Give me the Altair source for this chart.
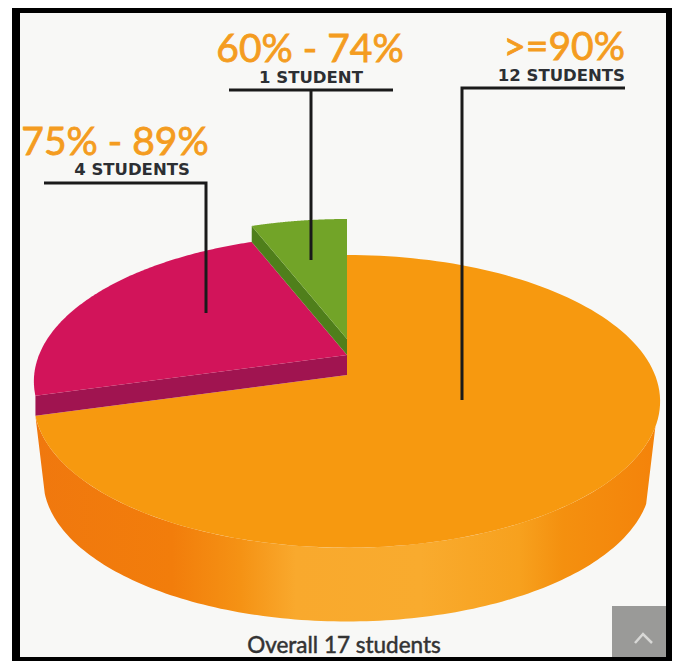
import math
import altair as alt
import pandas as pd

# --- chart values ---
bands = [">=90%", "75% - 89%", "60% - 74%"]
students = [12, 4, 1]
count_labels = ["12 STUDENTS", "4 STUDENTS", "1 STUDENT"]
footer = "Overall 17 students"

top_colors = ["#f7990f", "#d2145a", "#72a428"]
wall_colors = ["#f7990f", "#a01450", "#4f7f1b"]
surface_level = [375, 355, 339]   # height at which each slice's apex sits
wall_level = [454, 375, 355]      # where each slice's cut wall ends

# --- perspective disc ---
CX, A, B, K = 347, 308, 141.6, 0.18

def project(theta, apex, scale=1.0):
    w = 1 + K * math.cos(theta)
    return CX + scale * A * math.sin(theta) / w, apex - scale * B * math.cos(theta) / w

def arc(a, b, apex, scale=1.0, n=140):
    return [project(a + (b - a) * i / n, apex, scale) for i in range(n + 1)]

total = sum(students)
edges = [0]
for s in students:
    edges.append(edges[-1] + s / total * 2 * math.pi)

X = alt.X("x:Q", scale=alt.Scale(domain=[8, 672], nice=False, zero=False), axis=None)
Y = alt.Y("y:Q", scale=alt.Scale(domain=[661, 8], nice=False, zero=False), axis=None)

def poly(points, fill):
    df = pd.DataFrame(points, columns=["x", "y"])
    df["i"] = range(len(df))
    return alt.Chart(df).mark_line(fill=fill, strokeWidth=0, clip=False).encode(
        x=X, y=Y, order="i:Q")

def box(x, x2, y, y2, color):
    df = pd.DataFrame({"x": [x], "x2": [x2], "y": [y], "y2": [y2]})
    return alt.Chart(df).mark_rect(color=color).encode(x=X, x2="x2:Q", y=Y, y2="y2:Q")

def rule(points, color="#1a1a1a", w=3):
    df = pd.DataFrame(points, columns=["x", "y"])
    df["i"] = range(len(df))
    return alt.Chart(df).mark_line(color=color, strokeWidth=w, strokeCap="butt", clip=False).encode(
        x=X, y=Y, order="i:Q")

def label(text, x, y, size, color, align, weight="normal", font="Lato", heavy=0):
    df = pd.DataFrame({"x": [x], "y": [y], "t": [text]})
    kw = {"stroke": color, "strokeWidth": heavy} if heavy else {}
    return alt.Chart(df).mark_text(font=font, fontSize=size, color=color, align=align,
                                   baseline="alphabetic", fontWeight=weight, **kw
                                   ).encode(x=X, y=Y, text="t:N")

side = alt.Gradient(gradient="linear", x1=0, x2=1, y1=0, y2=0, stops=[
    alt.GradientStop(color="#f0780e", offset=0),
    alt.GradientStop(color="#f27d0b", offset=0.22),
    alt.GradientStop(color="#f59214", offset=0.33),
    alt.GradientStop(color="#f9a92d", offset=0.42),
    alt.GradientStop(color="#f9ab2e", offset=0.62),
    alt.GradientStop(color="#f7a11e", offset=0.78),
    alt.GradientStop(color="#f4900f", offset=0.85),
    alt.GradientStop(color="#f4830a", offset=1),
])

layers = [
    box(8, 672, 8, 661, "#000000"),
    box(8, 12, 8, 661, "#ffffff"),
    box(20, 666, 13, 657, "#f8f8f6"),
]

# outer wall of the large slice
wall_start = math.radians(110)
top_edge = arc(wall_start, edges[1], surface_level[0])
low_edge = arc(edges[1], wall_start, wall_level[0], 0.97)
layers.append(poly(top_edge + low_edge, side))

# large slice
apex = (CX, surface_level[0])
layers.append(poly([apex] + arc(edges[0], edges[1], surface_level[0]), top_colors[0]))

# two raised slices with their cut walls
for i, (a, b) in enumerate([(edges[1], edges[2]), (edges[2], edges[3])], start=1):
    lo, hi = surface_level[i], wall_level[i]
    layers.append(poly([project(a, lo), (CX, lo), (CX, hi), project(a, hi)], wall_colors[i]))
    layers.append(poly([(CX, surface_level[i])] + arc(a, b, surface_level[i]), top_colors[i]))

# leader lines
layers += [
    rule([(625, 88), (462, 88), (462, 400)]),
    rule([(44, 183), (206, 183), (206, 313)]),
    rule([(229, 90), (393, 90)]),
    rule([(311, 90), (311, 260)]),
]

# texts
orange = "#f49c20"
ink = "#2c2f33"
layers += [
    label(bands[0], 625, 60, 39, orange, "right", heavy=0.8),
    label(count_labels[0], 625, 81, 16.5, ink, "right", "bold", "DejaVu Sans"),
    label(bands[2], 310, 62, 39, orange, "center", heavy=0.8),
    label(count_labels[2], 311, 83, 16.5, ink, "center", "bold", "DejaVu Sans"),
    label(bands[1], 115, 155, 39, orange, "center", heavy=0.8),
    label(count_labels[1], 132, 175, 16.5, ink, "center", "bold", "DejaVu Sans"),
    label(footer, 344, 653, 22.5, "#333333", "center", heavy=0.5),
]

# back-to-top button
layers += [
    box(612, 666, 606, 657, "#9a9a98"),
    rule([(635, 643), (643, 634), (652, 643)], "#d8d8d6", 2.5),
]

chart = alt.layer(*layers).properties(
    width=664, height=653, padding=0, background="#ffffff",
    autosize=alt.AutoSizeParams(type="none"),
).configure_view(stroke=None)

chart.save("out.html", embed_options={"renderer": "svg", "actions": False})
